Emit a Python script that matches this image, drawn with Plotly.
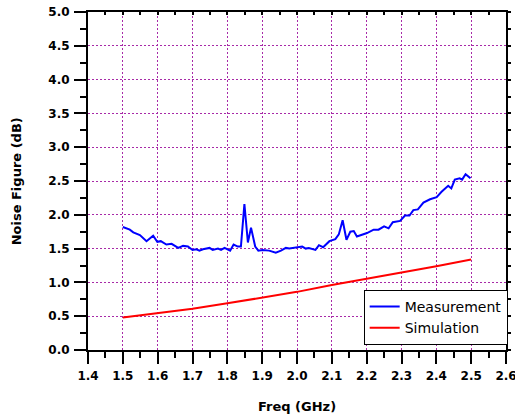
import plotly.graph_objects as go

meas_freq = [1.500, 1.520, 1.530, 1.549, 1.568, 1.587, 1.599, 1.609, 1.625, 1.640,
             1.659, 1.673, 1.687, 1.700, 1.711, 1.720, 1.730, 1.749, 1.758, 1.773,
             1.782, 1.792, 1.808, 1.818, 1.830, 1.839, 1.849, 1.859, 1.868, 1.880,
             1.889, 1.901, 1.920, 1.939, 1.954, 1.968, 1.978, 2.002, 2.015, 2.025,
             2.034, 2.053, 2.063, 2.075, 2.093, 2.110, 2.120, 2.131, 2.142, 2.153,
             2.163, 2.172, 2.186, 2.201, 2.220, 2.234, 2.250, 2.263, 2.275, 2.296,
             2.310, 2.323, 2.334, 2.347, 2.363, 2.382, 2.401, 2.415, 2.434, 2.443,
             2.453, 2.467, 2.474, 2.484, 2.498]
meas_nf = [1.82, 1.78, 1.74, 1.70, 1.61, 1.69, 1.60, 1.61, 1.56, 1.57,
           1.51, 1.54, 1.53, 1.48, 1.49, 1.47, 1.49, 1.51, 1.48, 1.50,
           1.48, 1.51, 1.47, 1.56, 1.53, 1.53, 2.16, 1.59, 1.81, 1.53,
           1.47, 1.48, 1.47, 1.44, 1.47, 1.51, 1.50, 1.52, 1.53, 1.50,
           1.51, 1.48, 1.55, 1.52, 1.61, 1.64, 1.71, 1.92, 1.63, 1.75,
           1.76, 1.68, 1.70, 1.73, 1.78, 1.78, 1.83, 1.80, 1.89, 1.91,
           1.99, 1.99, 2.07, 2.08, 2.18, 2.23, 2.26, 2.34, 2.43, 2.39,
           2.52, 2.54, 2.52, 2.60, 2.54]

sim_freq = [1.5, 1.6, 1.7, 1.8, 1.9, 2.0, 2.1, 2.2, 2.3, 2.4, 2.5]
sim_nf = [0.48, 0.54, 0.61, 0.69, 0.775, 0.86, 0.96, 1.05, 1.14, 1.24, 1.34]

x_ticks = [1.4, 1.5, 1.6, 1.7, 1.8, 1.9, 2.0, 2.1, 2.2, 2.3, 2.4, 2.5, 2.6]
y_ticks = [0.0, 0.5, 1.0, 1.5, 2.0, 2.5, 3.0, 3.5, 4.0, 4.5, 5.0]

BOLD = "DejaVu Sans"
GRID = "#a82aa8"

fig = go.Figure()
fig.add_trace(go.Scatter(x=meas_freq, y=meas_nf, mode="lines", name="Measurement",
                         line=dict(color="#0000ff", width=2)))
fig.add_trace(go.Scatter(x=sim_freq, y=sim_nf, mode="lines", name="Simulation",
                         line=dict(color="#ff0000", width=2)))
# empty trace to activate the mirrored tick axes
fig.add_trace(go.Scatter(x=[], y=[], xaxis="x2", yaxis="y2", showlegend=False,
                         hoverinfo="skip"))

axis_common = dict(showline=True, linecolor="black", linewidth=2, ticks="outside",
                   tickcolor="black", tickwidth=2, ticklen=12, zeroline=False,
                   showgrid=True, gridcolor=GRID, gridwidth=1, griddash="2px,2px",
                   tickfont=dict(family=BOLD, size=12, color="black", weight="bold"),
                   ticklabelstandoff=2, ticklabeloverflow="allow", automargin=False)

fig.update_layout(
    width=515, height=418,
    margin=dict(l=88, r=7, t=12, b=68),
    paper_bgcolor="white", plot_bgcolor="white",
    showlegend=True,
    xaxis=dict(range=[1.4, 2.6], tickvals=x_ticks, ticktext=[f"{v:.1f}" for v in x_ticks],
               minor=dict(dtick=0.05, tick0=1.4, ticklen=6, tickwidth=2, tickcolor="black",
                          ticks="outside", showgrid=False),
               **axis_common),
    yaxis=dict(range=[0, 5], tickvals=y_ticks, ticktext=[f"{v:.1f}" for v in y_ticks],
               minor=dict(dtick=0.25, tick0=0, ticklen=6, tickwidth=2, tickcolor="black",
                          ticks="outside", showgrid=False),
               **axis_common),
    xaxis2=dict(overlaying="x", side="top", range=[1.4, 2.6], showline=True, linecolor="black",
                linewidth=1.5, ticks="inside", ticklen=3, tickwidth=1.5, tickcolor="black",
                dtick=0.05, tick0=1.4, showticklabels=False, showgrid=False, zeroline=False,
                anchor="y2", automargin=False),
    yaxis2=dict(overlaying="y", side="right", range=[0, 5], showline=True, linecolor="black",
                linewidth=2, ticks="outside", ticklen=3, tickwidth=1.5, tickcolor="black",
                dtick=0.25, tick0=0, showticklabels=False, showgrid=False, zeroline=False,
                anchor="x2", automargin=False),
    legend=dict(x=1.004, y=0.015, xanchor="right", yanchor="bottom",
                bgcolor="white", bordercolor="black", borderwidth=1,
                font=dict(family="DejaVu Sans", size=14, color="black"),
                tracegroupgap=0, itemwidth=30),
    annotations=[
        dict(text="Freq (GHz)", xref="paper", yref="paper", x=0.5, y=-0.166,
             xanchor="center", yanchor="middle", showarrow=False,
             font=dict(family=BOLD, size=13, color="black", weight="bold")),
        dict(text="Noise Figure (dB)", xref="paper", yref="paper", x=-0.1714, y=0.5,
             xanchor="center", yanchor="middle", showarrow=False, textangle=-90,
             font=dict(family=BOLD, size=13, color="black", weight="bold")),
    ],
)

fig.write_html("out.html")
